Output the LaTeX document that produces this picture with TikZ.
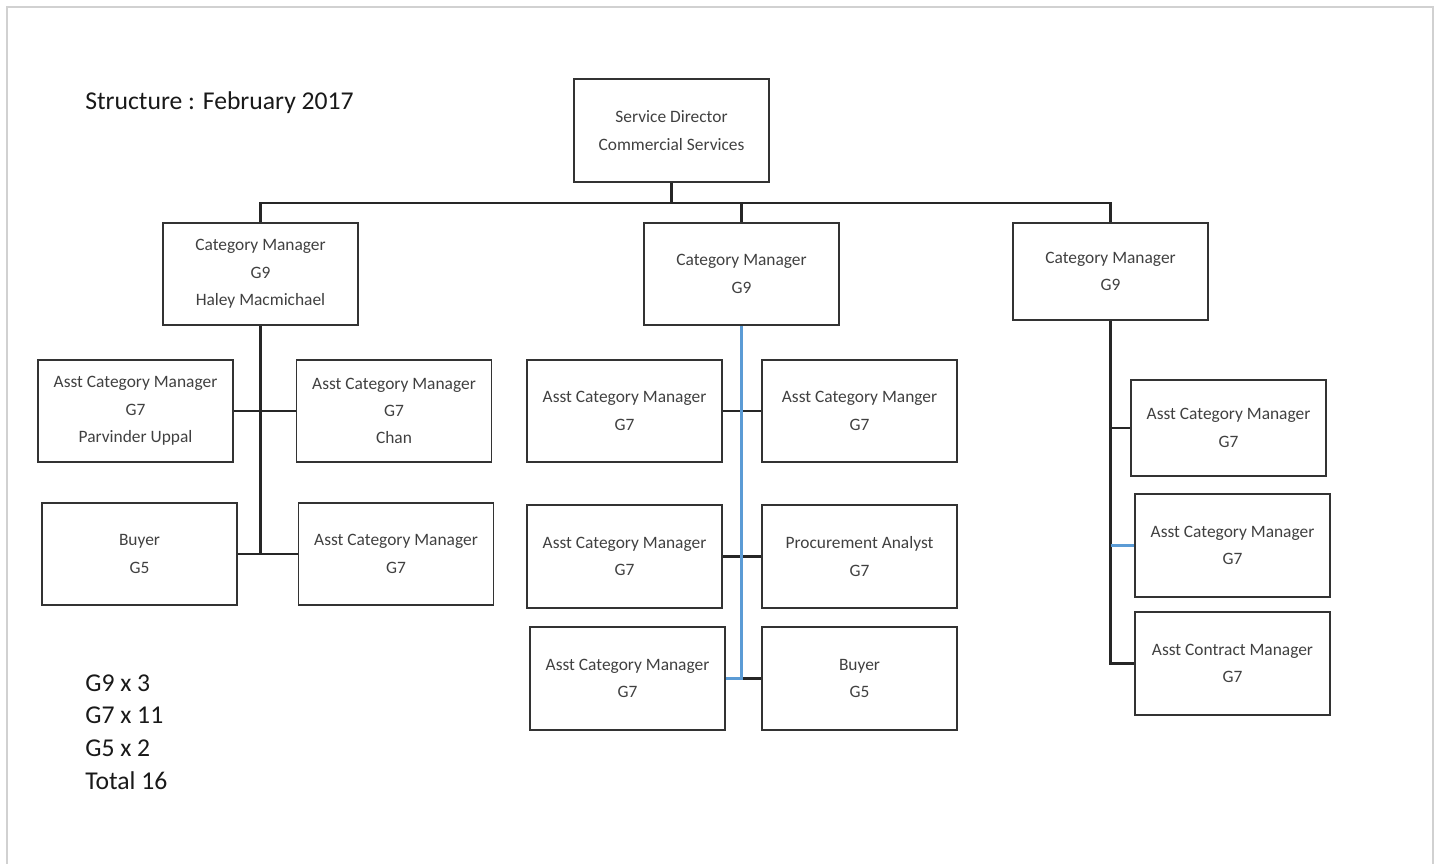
\documentclass[tikz,border=0pt]{standalone}
\usepackage{fontspec}
\setmainfont{Carlito}
\begin{document}
\begin{tikzpicture}[x=0.02cm,y=-0.02cm]
		\tikzset{box/.style = {shape=rectangle,draw=black!80,line width=1.1pt,minimum width=3.9cm,minimum height=2.05cm,inner sep=0pt,align=center,text=black!75,font=\fontsize{9.9}{15.6}\selectfont}}
		\tikzset{link/.style = {draw=black!85,line width=1.2pt}}
		\tikzset{bluelink/.style = {draw={rgb,255:red,91;green,155;blue,213},line width=1.2pt}}
		\tikzset{big/.style = {anchor=west,inner sep=0pt,text=black!90,font=\fontsize{14.6}{18.7}\selectfont}}
		\useasboundingbox (0,0) rectangle (1442,864);
		\draw[black!18,line width=1.4pt] (7,864) -- (7,7) -- (1433,7) -- (1433,864);
		\node[big] (title) at (85,103) {Structure : February 2017};
		\node[big,align=left,anchor=north west] (tally) at (85,674) {G9 x 3\\G7 x 11\\G5 x 2\\Total 16};
		\node[box] (sd) at (671.5,130.5) {Service Director\\Commercial Services};
		\node[box] (cmA) at (260.5,274) {Category Manager\\G9\\Haley Macmichael};
		\node[box] (cmB) at (741.5,274) {Category Manager\\G9};
		\node[box,minimum height=1.94cm] (cmC) at (1110.5,271.5) {Category Manager\\G9};
		\node[box] (aUppal) at (135.5,411) {Asst Category Manager\\G7\\Parvinder Uppal};
		\node[box] (aChan) at (394,411) {Asst Category Manager\\G7\\Chan};
		\node[box] (aBuyer) at (139.5,554) {Buyer\\G5};
		\node[box] (aAcm) at (396,554) {Asst Category Manager\\G7};
		\node[box] (bAcmOne) at (624.5,411) {Asst Category Manager\\G7};
		\node[box] (bAcmTwo) at (859.5,411) {Asst Category Manger\\G7};
		\node[box] (bAcmThree) at (624.5,556.5) {Asst Category Manager\\G7};
		\node[box] (bAnalyst) at (859.5,556.5) {Procurement Analyst\\G7};
		\node[box] (bAcmFour) at (627.5,678.5) {Asst Category Manager\\G7};
		\node[box] (bBuyer) at (859.5,678.5) {Buyer\\G5};
		\node[box,minimum height=1.92cm] (cAcmOne) at (1228.5,428) {Asst Category Manager\\G7};
		\node[box] (cAcmTwo) at (1232.5,545.5) {Asst Category Manager\\G7};
		\node[box] (cContract) at (1232.5,663.5) {Asst Contract Manager\\G7};
		\path[link] (sd.south) -- ++(0,20) -| (cmA.north);
		\path[link] (sd.south) -- ++(0,20) -| (cmB.north);
		\path[link] (sd.south) -- ++(0,20) -| (cmC.north);
		\path[link] (cmA.south) |- (aUppal.east);
		\path[link] (cmA.south) |- (aChan.west);
		\path[link] (cmA.south) |- (aBuyer.east);
		\path[link] (cmA.south) |- (aAcm.west);
		\path[link] (bAcmOne.east) -- (bAcmTwo.west);
		\path[link] (bAcmThree.east) -- (bAnalyst.west);
		\path[link] (cmB.south |- bBuyer.west) -- (bBuyer.west);
		\path[bluelink] (cmB.south) |- (bAcmFour.east);
		\path[link] (cmC.south) |- (cAcmOne.west);
		\path[link] (cmC.south) |- (cContract.west);
		\path[bluelink] (cmC.south |- cAcmTwo.west) -- (cAcmTwo.west);
	\end{tikzpicture}
\end{document}
